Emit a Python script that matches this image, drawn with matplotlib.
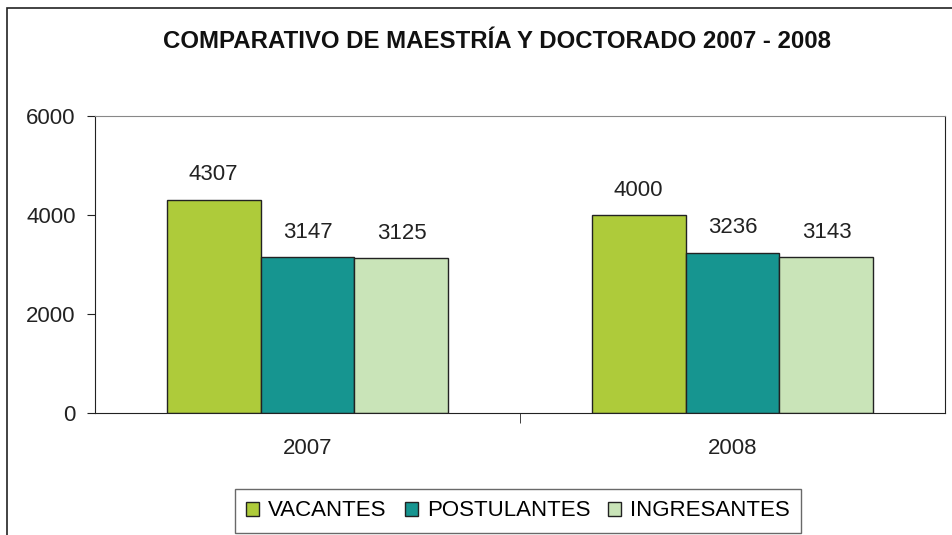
import matplotlib.pyplot as plt
import numpy as np
from matplotlib.patches import Rectangle

plt.rcParams['font.family'] = ['Liberation Sans', 'DejaVu Sans']

# data
years = ["2007", "2008"]
series = ["VACANTES", "POSTULANTES", "INGRESANTES"]
vacantes = [4307, 4000]
postulantes = [3147, 3236]
ingresantes = [3125, 3143]
colors = ["#AECB3A", "#169590", "#C9E4B8"]

fig = plt.figure(figsize=(9.52, 5.35), dpi=100)
ax = fig.add_axes([95 / 952, 1 - 413 / 535, 850 / 952, 297 / 535])

# outer chart border (cut off at right and bottom)
fig.patches.append(Rectangle((7 / 952, -0.1), 1.2, 1 - 8 / 535 + 0.1,
                             transform=fig.transFigure, fill=False,
                             edgecolor="#222222", linewidth=1.2))

x = np.arange(len(years))
w = 0.221
for i, (name, vals) in enumerate(zip(series, [vacantes, postulantes, ingresantes])):
    pos = x + (i - 1) * w
    ax.bar(pos, vals, width=w, color=colors[i], edgecolor="#222222",
           linewidth=1, label=name, zorder=2)
    for px, v in zip(pos, vals):
        ax.text(px, v + 290, str(v), ha="center", va="bottom", fontsize=16,
                color="#222222")

ax.set_xlim(-0.5, 1.5)
ax.set_ylim(0, 6000)
ax.set_yticks([0, 2000, 4000, 6000])
ax.set_yticklabels(["0", "2000", "4000", "6000"], fontsize=16, color="#222222")
ax.set_xticks(x)
ax.set_xticklabels(years, fontsize=16, color="#222222")
ax.tick_params(axis="x", length=0, pad=18)
ax.tick_params(axis="y", length=6, direction="out", pad=8, color="#222222")
ax.set_xticks([0.5], minor=True)
ax.tick_params(axis="x", which="minor", length=7, color="#222222")

ax.spines["top"].set_color("#888888")
ax.spines["right"].set_color("#222222")
ax.spines["left"].set_color("#222222")
ax.spines["bottom"].set_color("#222222")

fig.text(497 / 952, 1 - 42 / 535, "COMPARATIVO DE MAESTRÍA Y DOCTORADO 2007 - 2008",
         ha="center", va="center", fontsize=17.3, fontweight="bold",
         color="#111111")

leg = fig.legend(loc="center", bbox_to_anchor=(518 / 952, 1 - 511 / 535),
                 ncol=3, fontsize=16, frameon=True, fancybox=False,
                 handlelength=0.6, handleheight=0.6, handletextpad=0.4,
                 columnspacing=0.8, borderpad=0.5, borderaxespad=0)
leg.get_frame().set_edgecolor("#444444")
leg.get_frame().set_linewidth(1)

fig.savefig("out.png", dpi=100)
